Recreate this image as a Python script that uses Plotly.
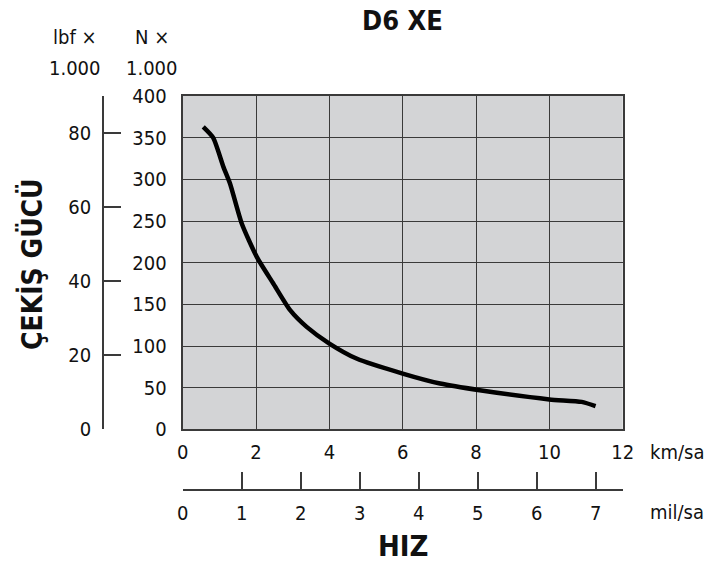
import plotly.graph_objects as go

# Data
speed_kmh = [0.56, 0.83, 1.11, 1.29, 1.61, 2.02, 2.47, 2.93, 3.38, 4.0, 4.74, 6.0, 7.02, 8.1, 10.0, 10.88, 11.26]
force_kn = [363, 350, 315, 295, 247, 207, 175, 143, 123, 103, 85, 67, 55, 47, 36, 33, 28]

km_ticks = [0, 2, 4, 6, 8, 10, 12]
mil_ticks = [0, 1, 2, 3, 4, 5, 6, 7]
n_ticks = [0, 50, 100, 150, 200, 250, 300, 350, 400]
lbf_ticks = [0, 20, 40, 60, 80]

KM_PER_MILE = 1.609344
N_PER_LBF = 4.44822

W, H = 727, 563
OX, OY = 8, 8  # page body margin offset
FONT = "DejaVu Sans Condensed, sans-serif"
INK = "#111111"
LINE = "#3a3a3a"

def px(x):
    return (x - OX) / W

def py(y):
    return 1 - (y - OY) / H

x_dom = [px(182.7), px(622.7)]
y_dom = [py(429.4), py(96)]

fig = go.Figure()
fig.add_trace(go.Scatter(
    x=speed_kmh, y=force_kn, mode="lines",
    line=dict(color="black", width=4.5, shape="spline", smoothing=0.6),
    showlegend=False, hoverinfo="skip",
))
# invisible helper trace on secondary unit axes
fig.add_trace(go.Scatter(
    x=[0], y=[0], xaxis="x2", yaxis="y2", mode="markers",
    marker=dict(opacity=0), showlegend=False, hoverinfo="skip",
))

tickfont = dict(family=FONT, size=20, color=INK)

fig.update_layout(
    width=W, height=H,
    margin=dict(l=0, r=0, t=0, b=0, pad=0, autoexpand=False),
    paper_bgcolor="white",
    plot_bgcolor="#d3d4d6",
    font=dict(family=FONT, color=INK),
    showlegend=False,
    xaxis=dict(
        domain=x_dom, range=[0, 12], tickvals=km_ticks, automargin=False,
        showgrid=True, gridcolor=LINE, gridwidth=1.3,
        showline=True, linecolor=LINE, linewidth=2, mirror=True,
        zeroline=False, ticks="", tickfont=tickfont, ticklabelstandoff=4,
    ),
    yaxis=dict(
        domain=y_dom, range=[0, 400], tickvals=n_ticks, automargin=False,
        showgrid=True, gridcolor=LINE, gridwidth=1.3,
        showline=True, linecolor=LINE, linewidth=2, mirror=True,
        zeroline=False, ticks="", tickfont=tickfont, ticklabelstandoff=10,
    ),
    xaxis2=dict(
        overlaying="x", anchor="free", position=py(490), side="bottom",
        range=[0, 12 / KM_PER_MILE], tickvals=mil_ticks, automargin=False,
        showgrid=False, zeroline=False,
        showline=True, linecolor=LINE, linewidth=1.5,
        ticks="inside", ticklen=17, tickwidth=1.5, tickcolor=LINE,
        tickfont=tickfont, ticklabelstandoff=5,
    ),
    yaxis2=dict(
        overlaying="y", anchor="free", position=px(103), side="left",
        range=[0, 400 / N_PER_LBF], tickvals=lbf_ticks, automargin=False,
        showgrid=False, zeroline=False,
        showline=True, linecolor=LINE, linewidth=1.5,
        ticks="inside", ticklen=17, tickwidth=1.5, tickcolor=LINE,
        tickfont=tickfont, ticklabelstandoff=7,
    ),
)

def ann(text, x, y, size, xanchor="center", angle=0):
    fig.add_annotation(
        text=text, x=px(x), y=py(y), xref="paper", yref="paper",
        xanchor=xanchor, yanchor="middle", showarrow=False, textangle=angle,
        font=dict(family=FONT, size=size, color=INK),
    )

ann("<b>D6 XE</b>", 402, 20, 27)
ann("<b>HIZ</b>", 403, 546, 29)
ann("<b>ÇEKİŞ GÜCÜ</b>", 32, 264, 28, angle=-90)
ann("km/sa", 648, 452, 20, xanchor="left")
ann("mil/sa", 648, 512, 20, xanchor="left")
ann("lbf ×", 75, 37, 20)
ann("1.000", 75, 68, 20)
ann("N ×", 152, 37, 20)
ann("1.000", 152, 68, 20)

fig.write_html("out.html")
